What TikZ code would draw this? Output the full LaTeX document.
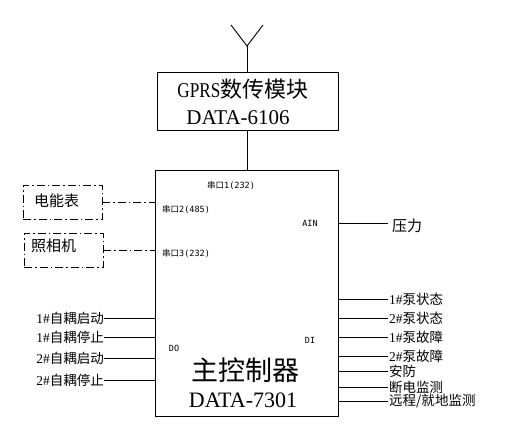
\documentclass[tikz,border=0pt]{standalone}
\usepackage{fontspec}
\setmainfont{Liberation Serif}
\newfontfamily\cjk{Noto Sans CJK SC}
\newfontfamily\smallfnt{DejaVu Sans Mono}
\tikzset{
  ln/.style={line width=0.9pt},
  dd/.style={line width=0.9pt, dash pattern=on 8pt off 3pt on 1.5pt off 3pt},
  lab/.style={inner sep=0pt, font=\fontsize{13.5}{13.5}\selectfont},
  tiny/.style={inner sep=0pt, font=\smallfnt\fontsize{8.5}{8.5}\selectfont},
}
\begin{document}
\begin{tikzpicture}[x=1pt,y=-1pt]
\useasboundingbox (0,0) rectangle (513,424);
% GPRS box
\node[draw, ln, minimum width=181pt, minimum height=58pt, inner sep=0pt] (gprs) at (247.5,101) {};
\node[inner sep=0pt] (g1) at (243,89) {\fontsize{20}{20}\selectfont\scalebox{0.86}[1.05]{GPRS}{\cjk\fontsize{22}{22}\selectfont 数传模块}};
\node[inner sep=0pt] (g2) at (238,118) {\fontsize{21}{21}\selectfont DATA-6106};
% antenna
\coordinate (ant) at (247,46);
\coordinate (antl) at (231,25);
\coordinate (antr) at (263,25);
\draw[ln] (gprs.north -| ant) -- (ant);
\draw[ln] (antl) -- (ant) -- (antr);
% main box
\node[draw, ln, minimum width=183pt, minimum height=246pt, inner sep=0pt] (main) at (246.5,293) {};
\draw[ln] (gprs.south -| ant) -- (main.north -| ant);
\node[inner sep=0pt] (m1) at (245,370) {\cjk\fontsize{27}{27}\selectfont 主控制器};
\node[inner sep=0pt] (m2) at (243,400) {\fontsize{22}{22}\selectfont DATA-7301};
% internal small labels
\node[tiny, anchor=west] (c1) at (207,185) {{\cjk 串口}1(232)};
\node[tiny, anchor=west] (c2) at (162,209) {{\cjk 串口}2(485)};
\node[tiny, anchor=west] (c3) at (162,253) {{\cjk 串口}3(232)};
\node[tiny] (ain) at (310,223) {AIN};
\node[tiny] (do) at (174,348) {DO};
\node[tiny] (di) at (310,340) {DI};
% left dashed boxes
\node[draw, dd, minimum width=79pt, minimum height=34pt, inner sep=0pt] (meter) at (62.5,202) {};
\node[inner sep=0pt, anchor=west] (meterl) at (34,201) {\cjk\fontsize{15}{15}\selectfont 电能表};
\node[draw, dd, minimum width=79pt, minimum height=34pt, inner sep=0pt] (cam) at (63.5,250) {};
\node[inner sep=0pt, anchor=west] (caml) at (31,246) {\cjk\fontsize{15}{15}\selectfont 照相机};
\draw[dd] (meter.east) -- (main.west |- meter.east);
\draw[dd] (cam.east) -- (main.west |- cam.east);
% pressure
\coordinate (pr) at (388,223);
\draw[ln] (main.east |- pr) -- (pr);
\node[inner sep=0pt, anchor=west] (prl) at (392,226) {\cjk\fontsize{15}{15}\selectfont 压力};
% left outputs
\foreach \i/\y/\t in {1/318/{1\#{\cjk 自耦启动}},2/337/{1\#{\cjk 自耦停止}},3/358/{2\#{\cjk 自耦启动}},4/380/{2\#{\cjk 自耦停止}}}{
  \coordinate (lo\i) at (104,\y);
  \draw[ln] (lo\i) -- (main.west |- lo\i);
  \node[lab, anchor=east] (lol\i) at (lo\i) {\t};
}
% right inputs
\foreach \i/\y/\t in {1/299/{1\#{\cjk 泵状态}},2/318/{2\#{\cjk 泵状态}},3/337/{1\#{\cjk 泵故障}},4/356/{2\#{\cjk 泵故障}},5/371/{\cjk 安防},6/387/{\cjk 断电监测},7/401/{\cjk 远程/就地监测}}{
  \coordinate (ri\i) at (388,\y);
  \draw[ln] (main.east |- ri\i) -- (ri\i);
  \node[lab, anchor=west] (ril\i) at ([xshift=1pt]ri\i) {\t};
}
\end{tikzpicture}
\end{document}
